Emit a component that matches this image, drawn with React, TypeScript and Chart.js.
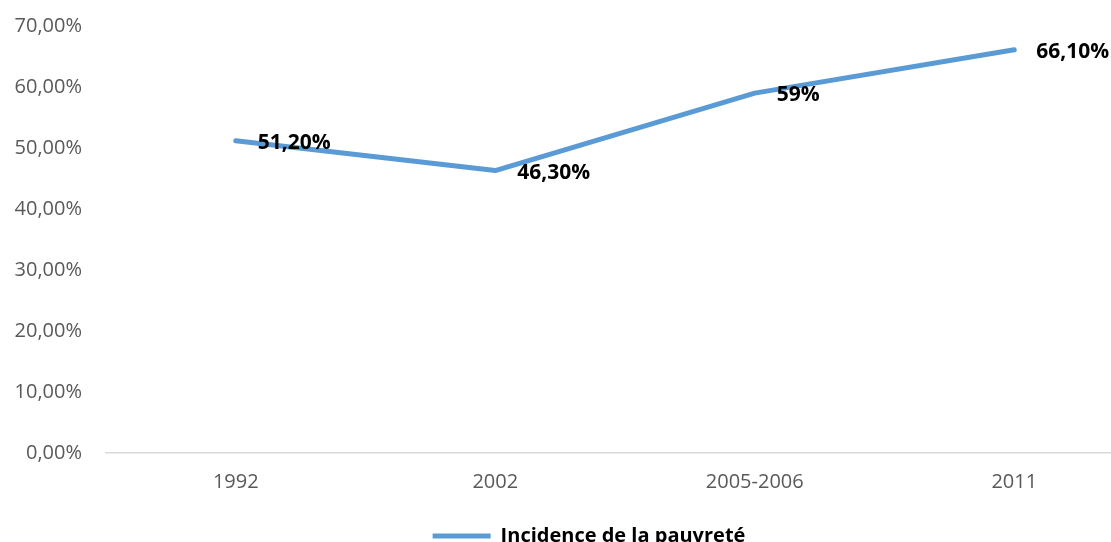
import React, { useEffect, useRef } from "react";
import { Chart, registerables } from "chart.js";

Chart.register(...registerables);

const categories = ["1992", "2002", "2005-2006", "2011"];
const incidence = [51.2, 46.3, 59, 66.1];
const pointLabels = ["51,20%", "46,30%", "59%", "66,10%"];
const seriesName = "Incidence de la pauvreté";
const yTicks = [0, 10, 20, 30, 40, 50, 60, 70];

const LINE_COLOR = "#5B9BD5";
const FONT = "'Open Sans', 'Liberation Sans', sans-serif";

const dataLabelPlugin = {
  id: "dataLabels",
  afterDatasetsDraw(chart: any) {
    const ctx = chart.ctx;
    const meta = chart.getDatasetMeta(0);
    ctx.save();
    ctx.font = `bold 21px ${FONT}`;
    ctx.fillStyle = "#000000";
    ctx.textAlign = "left";
    ctx.textBaseline = "middle";
    meta.data.forEach((pt: any, i: number) => {
      ctx.fillText(pointLabels[i], pt.x + 22, pt.y + 2);
    });
    ctx.restore();
  },
};

const legendShiftPlugin = {
  id: "legendShift",
  afterLayout(chart: any) {
    if (chart.legend) {
      chart.legend.left += 17;
      chart.legend.right += 17;
    }
  },
};

export default function App() {
  const ref = useRef<HTMLCanvasElement | null>(null);
  useEffect(() => {
    if (!ref.current) return;
    const chart = new Chart(ref.current, {
      type: "line",
      data: {
        labels: categories,
        datasets: [
          {
            label: seriesName,
            data: incidence,
            borderColor: LINE_COLOR,
            backgroundColor: LINE_COLOR,
            borderWidth: 5,
            pointRadius: 0,
            pointHoverRadius: 0,
            tension: 0,
            borderCapStyle: "round",
            borderJoinStyle: "round",
          },
        ],
      },
      options: {
        responsive: false,
        animation: false,
        maintainAspectRatio: false,
        layout: { padding: { top: 26, left: 0, right: 6, bottom: 0 } },
        plugins: {
          tooltip: { enabled: false },
          legend: {
            position: "bottom",
            labels: {
              font: { family: FONT, size: 20, weight: "bold" },
              color: "#000000",
              boxWidth: 58,
              boxHeight: 5,
              padding: 15,
              generateLabels: (c: any) =>
                c.data.datasets.map((d: any, i: number) => ({
                  text: d.label,
                  fillStyle: LINE_COLOR,
                  strokeStyle: LINE_COLOR,
                  lineWidth: 0,
                  hidden: false,
                  datasetIndex: i,
                  fontColor: "#000000",
                })),
            },
          },
        },
        scales: {
          x: {
            type: "category",
            offset: true,
            grid: { display: false, drawTicks: false },
            border: { display: true, color: "#D9D9D9", width: 1.5 },
            ticks: {
              color: "#595959",
              font: { family: FONT, size: 20 },
              padding: 17,
              maxRotation: 0,
            },
          },
          y: {
            min: 0,
            max: 70,
            grid: { display: false, drawTicks: true, tickLength: 22 },
            border: { display: false },
            afterBuildTicks: (scale: any) => {
              scale.ticks = yTicks.map((v) => ({ value: v }));
            },
            afterFit: (scale: any) => {
              scale.width = 106;
            },
            ticks: {
              color: "#595959",
              font: { family: FONT, size: 20 },
              padding: 2,
              callback: (v: any) => Number(v).toFixed(2).replace(".", ",") + "%",
            },
          },
        },
      },
      plugins: [dataLabelPlugin, legendShiftPlugin],
    } as any);
    return () => chart.destroy();
  }, []);

  return (
    <div
      style={{
        position: "fixed",
        left: 0,
        top: 0,
        width: 1111,
        height: 542,
        overflow: "hidden",
        background: "#ffffff",
      }}
    >
      <canvas ref={ref} width={1150} height={556} style={{ display: "block" }} />
    </div>
  );
}
